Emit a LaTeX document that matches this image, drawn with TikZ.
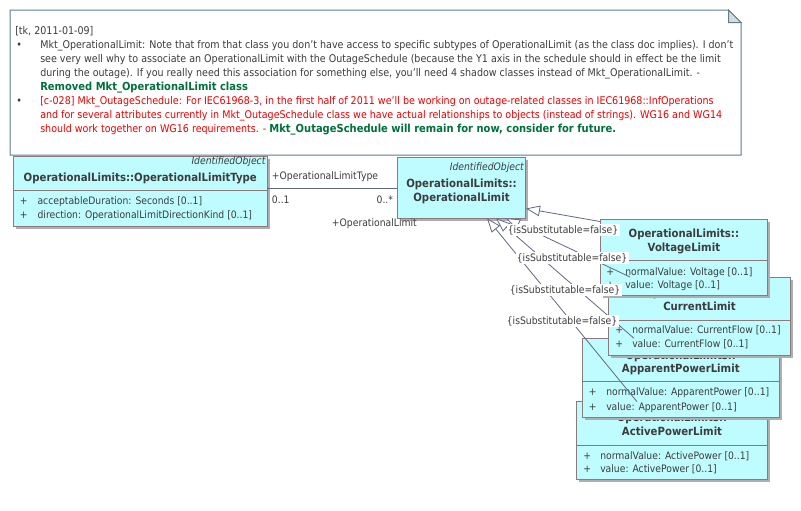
\documentclass[tikz,border=0pt]{standalone}
\usepackage{fontspec}
\setmainfont{DejaVu Sans}[FakeStretch=0.9]
\usetikzlibrary{arrows.meta,fit,shadows}
\definecolor{tgray}{RGB}{60,60,60}
\definecolor{nred}{RGB}{235,0,0}
\definecolor{ngreen}{RGB}{0,112,60}
\definecolor{noteb}{RGB}{95,125,140}
\definecolor{foldf}{RGB}{212,220,224}
\definecolor{boxb}{RGB}{140,122,122}
\definecolor{boxf}{RGB}{190,252,255}
\definecolor{shade}{RGB}{175,175,175}
\definecolor{conn}{RGB}{95,105,130}
\newcommand{\nfont}{\fontsize{7.95pt}{10.5pt}\selectfont}
\newcommand{\nbfont}{\fontsize{8.3pt}{10.5pt}\selectfont\bfseries}
\begin{document}
\begin{tikzpicture}[x=0.75pt,y=-0.75pt,
  font=\fontsize{7.7pt}{10.5pt}\selectfont,
  txt/.style={inner sep=0, anchor=base west, text=tgray},
  rtxt/.style={inner sep=0, anchor=base east, text=tgray},
  ttl/.style={inner sep=0, anchor=base, text=tgray, font=\fontsize{8.45pt}{10.5pt}\selectfont\bfseries},
  ster/.style={inner sep=0, anchor=base east, text=tgray, font=\fontsize{7.7pt}{10.5pt}\selectfont\itshape},
  cls/.style={draw=boxb, fill=boxf, inner sep=0, line width=0.75pt,
    drop shadow={shadow xshift=1.9pt, shadow yshift=-1.9pt, fill=shade, opacity=1}},
  sepl/.style={draw=boxb, line width=0.75pt},
  gen/.style={draw=conn, line width=0.6pt, -{Triangle[open, fill=white, length=10.5pt, width=8pt]}},
  assoc/.style={draw=conn, line width=0.75pt},
  lbl/.style={fill=white, inner sep=1pt, text=tgray},
  ntxt/.style={inner sep=0, anchor=base west, text=tgray, font=\nfont},
  rtx/.style={inner sep=0, anchor=base west, text=nred, font=\nfont}
]
\useasboundingbox (0,0) rectangle (801,511);

% ---------- note ----------
\draw[draw=noteb, fill=white, line width=0.75pt] (10,10) -- (728.5,10) -- (741,22.5) -- (741,155) -- (10,155) -- cycle;
\draw[draw=noteb, fill=foldf, line width=0.75pt] (728.5,10) -- (741,22.5) -- (728.5,22.5) -- cycle;
\node[ntxt] (n0) at (15,34.3) {[tk, 2011-01-09]};
\node[ntxt] (b1) at (16,48.3) {•};
\node[ntxt] (n1) at (40,48.3) {Mkt\_OperationalLimit: Note that from that class you don't have access to specific subtypes of OperationalLimit (as the class doc implies). I don't};
\node[ntxt] (n2) at (40,62.3) {see very well why to associate an OperationalLimit with the OutageSchedule (because the Y1 axis in the schedule should in effect be the limit};
\node[ntxt] (n3) at (40,76.3) {during the outage). If you really need this association for something else, you'll need 4 shadow classes instead of Mkt\_OperationalLimit. -};
\node[ntxt, text=ngreen, font=\nbfont] (n4) at (40,90.4) {Removed Mkt\_OperationalLimit class};
\node[ntxt] (b2) at (16,104.4) {•};
\node[rtx] (n5) at (40,104.4) {[c-028] Mkt\_OutageSchedule: For IEC61968-3, in the first half of 2011 we'll be working on outage-related classes in IEC61968::InfOperations};
\node[rtx] (n6) at (40,118.5) {and for several attributes currently in Mkt\_OutageSchedule class we have actual relationships to objects (instead of strings). WG16 and WG14};
\node[rtx] (n7) at (40,132.5) {should work together on WG16 requirements. - {\color{ngreen}\nbfont Mkt\_OutageSchedule will remain for now, consider for future.}};

% ---------- OperationalLimitType ----------
\coordinate (oltA) at (13.3,156.7); \coordinate (oltB) at (267.3,226);
\node[cls, fit=(oltA)(oltB)] (olt) {};
\draw[sepl] (13.3,190.3) -- (267.3,190.3);
\node[ster] (olts) at (265.7,164.3) {IdentifiedObject};
\node[ttl] (oltt) at (140.3,181) {OperationalLimits::OperationalLimitType};
\node[txt] (oltp1) at (19.5,204.3) {+};
\node[txt] (olta1) at (37.3,204.3) {acceptableDuration: Seconds [0..1]};
\node[txt] (oltp2) at (19.5,218.3) {+};
\node[txt] (olta2) at (37.3,218.3) {direction: OperationalLimitDirectionKind [0..1]};

% ---------- OperationalLimit ----------
\coordinate (olA) at (397.3,157.3); \coordinate (olB) at (525.7,218.3);
\node[cls, fit=(olA)(olB)] (ol) {};
\node[ster] (ols) at (524,170.7) {IdentifiedObject};
\node[ttl] (olt1) at (461.5,187.7) {OperationalLimits::};
\node[ttl] (olt2) at (461.5,201.7) {OperationalLimit};

% ---------- association ----------
\coordinate (as1) at (267.3,188.5); \coordinate (as2) at (397.3,188.5);
\draw[assoc] (as1) -- (as2);
\node[txt] (r1) at (271.7,179.3) {+OperationalLimitType};
\node[txt] (m1) at (271.7,203.3) {0..1};
\node[rtxt] (m2) at (393.3,203.3) {0..*};
\node[txt] (r2) at (331.7,226.7) {+OperationalLimit};

% ---------- ActivePowerLimit ----------
\coordinate (acA) at (576.7,401.7); \coordinate (acB) at (767.3,479);
\node[cls, fit=(acA)(acB)] (acl) {};
\draw[sepl] (576.7,445.7) -- (767.3,445.7);
\node[ttl] (act1) at (672,421.5) {OperationalLimits::};
\node[ttl] (act2) at (672,435) {ActivePowerLimit};
\node[txt] (acp1) at (583,459) {+};
\node[txt] (aca1) at (600,459) {normalValue: ActivePower [0..1]};
\node[txt] (acp2) at (583,472.3) {+};
\node[txt] (aca2) at (600,472.3) {value: ActivePower [0..1]};

% ---------- ApparentPowerLimit ----------
\coordinate (apA) at (582.3,338.3); \coordinate (apB) at (779.3,417.3);
\node[cls, fit=(apA)(apB)] (apl) {};
\draw[sepl] (582.3,381.7) -- (779.3,381.7);
\node[ttl] (apt1) at (680.8,359.3) {OperationalLimits::};
\node[ttl] (apt2) at (680.8,372.7) {ApparentPowerLimit};
\node[txt] (app1) at (588.5,395.7) {+};
\node[txt] (apa1) at (606,395.7) {normalValue: ApparentPower [0..1]};
\node[txt] (app2) at (588.5,410) {+};
\node[txt] (apa2) at (606,410) {value: ApparentPower [0..1]};

% ---------- CurrentLimit ----------
\coordinate (clA) at (608.3,277); \coordinate (clB) at (790.7,355);
\node[cls, fit=(clA)(clB)] (cl) {};
\draw[sepl] (608.3,320) -- (790.7,320);
\node[ttl] (clt1) at (699.5,296.4) {OperationalLimits::};
\node[ttl] (clt2) at (699.5,310.7) {CurrentLimit};
\node[txt] (clp1) at (615,333.3) {+};
\node[txt] (cla1) at (632,333.3) {normalValue: CurrentFlow [0..1]};
\node[txt] (clp2) at (615,347.3) {+};
\node[txt] (cla2) at (632,347.3) {value: CurrentFlow [0..1]};

% ---------- VoltageLimit ----------
\coordinate (vlA) at (600,219); \coordinate (vlB) at (767.7,295.7);
\node[cls, fit=(vlA)(vlB)] (vl) {};
\draw[sepl] (600,260) -- (767.7,260);
\node[ttl] (vlt1) at (683.9,237.3) {OperationalLimits::};
\node[ttl] (vlt2) at (683.9,251.7) {VoltageLimit};
\node[txt] (vlp1) at (606,275) {+};
\node[txt] (vla1) at (625,275) {normalValue: Voltage [0..1]};
\node[txt] (vlp2) at (606,288.3) {+};
\node[txt] (vla2) at (625,288.3) {value: Voltage [0..1]};

% ---------- generalizations ----------
\coordinate (g1s) at (600,221.5);  \coordinate (g1t) at (526,208.5);
\coordinate (g2s) at (630,277);    \coordinate (g2t) at (506,218.3);
\coordinate (g3s) at (634,338.3);  \coordinate (g3t) at (496,218.3);
\coordinate (g4s) at (637,401.7);  \coordinate (g4t) at (487,218.3);
\draw[gen] (g1s) -- (g1t);
\draw[gen] (g2s) -- (g2t);
\draw[gen] (g3s) -- (g3t);
\draw[gen] (g4s) -- (g4t);
\node[lbl] (l1) at (563,230) {\{isSubstitutable=false\}};
\node[lbl] (l2) at (572,258) {\{isSubstitutable=false\}};
\node[lbl] (l3) at (565,290) {\{isSubstitutable=false\}};
\node[lbl] (l4) at (562,321) {\{isSubstitutable=false\}};
\end{tikzpicture}
\end{document}
